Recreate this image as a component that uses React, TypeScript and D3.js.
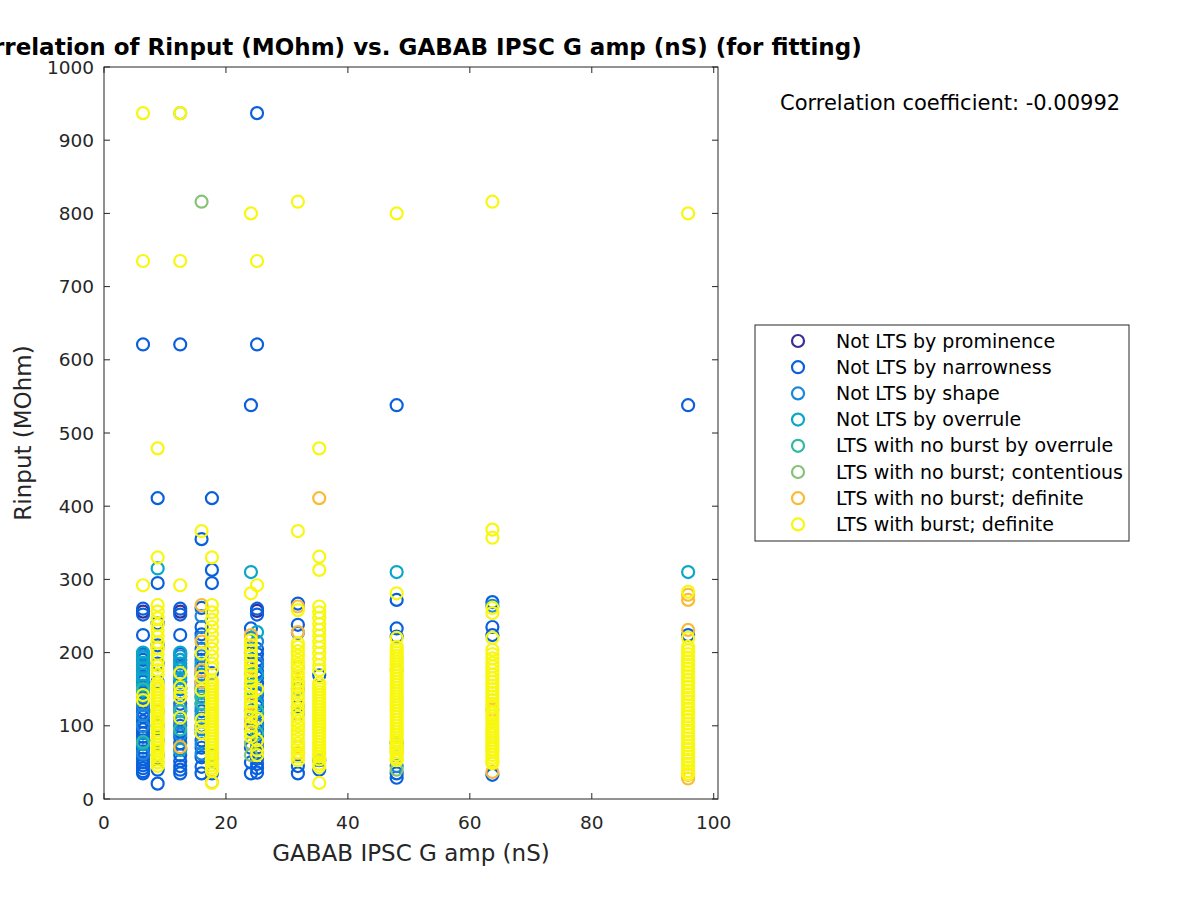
import React from 'react';
import * as d3 from 'd3';

// Legend labels and colours (parula-like)
const categoryLabels = [
  'Not LTS by prominence',
  'Not LTS by narrowness',
  'Not LTS by shape',
  'Not LTS by overrule',
  'LTS with no burst by overrule',
  'LTS with no burst; contentious',
  'LTS with no burst; definite',
  'LTS with burst; definite',
];
const categoryColors = ['#3b2d96', '#0a60dc', '#1a88d8', '#0aa6c8', '#2fb8a2', '#86c275', '#fbba34', '#f7f710'];

const xTicks = [0, 20, 40, 60, 80, 100];
const yTicks = [0, 100, 200, 300, 400, 500, 600, 700, 800, 900, 1000];

const titleText = 'Correlation of Rinput (MOhm) vs. GABAB IPSC G amp (nS) (for fitting)';
const xLabel = 'GABAB IPSC G amp (nS)';
const yLabel = 'Rinput (MOhm)';
const corrText = 'Correlation coefficient: -0.00992';

// Each row: [GABAB amp, Rinput values...]
const prominence = [
  [6.4, 256, 90],
  [12.5, 256],
  [25.1, 257],
];
const narrowness = [
  [6.4, 621, 260, 252, 224, 198, 190, 183, 176, 168, 160, 152, 145, 138, 130, 124, 118, 112, 106, 100, 95, 90, 85, 80, 75, 70, 65, 60, 55, 50, 46, 42, 38, 35],
  [8.8, 411, 295, 240, 210, 185, 160, 120, 100, 80, 60, 40, 21],
  [12.5, 621, 260, 252, 224, 198, 190, 180, 170, 160, 150, 140, 130, 120, 110, 100, 92, 84, 76, 68, 60, 52, 45, 40, 35],
  [16, 355, 261, 235, 225, 205, 190, 180, 170, 160, 150, 140, 130, 120, 110, 100, 90, 80, 70, 57, 44, 35],
  [17.7, 411, 313, 295, 172, 60, 35],
  [24.1, 538, 233, 200, 160, 120, 95, 70, 50, 35],
  [25.1, 937, 621, 260, 252, 205, 198, 190, 182, 174, 166, 158, 150, 142, 134, 126, 118, 110, 102, 94, 86, 78, 70, 62, 55, 48, 42, 36],
  [31.8, 267, 238, 227, 126, 117, 45, 35],
  [35.3, 169, 53, 40],
  [48, 538, 272, 233, 222, 76, 35, 29],
  [63.7, 269, 235, 224, 33],
  [95.8, 538, 224],
];
const shape = [
  [6.4, 196, 180, 165, 140, 128, 115, 100, 62],
  [12.5, 195, 185, 160, 145, 125, 105, 88],
  [16, 250, 220, 195, 175, 155, 125, 95, 75, 62],
  [24.1, 220, 110],
  [25.1, 215, 185, 145, 100],
  [31.8, 150],
  [48, 45],
  [63.7, 264],
];
const overrule = [
  [6.4, 200, 193, 186, 178, 170, 163, 155, 148, 75],
  [8.8, 315],
  [12.5, 200, 190, 178, 165, 152, 67],
  [16, 185, 145, 115],
  [24.1, 310, 190, 150],
  [25.1, 228, 170, 130],
  [48, 310],
  [95.8, 310],
];
const noBurstOverrule = [
  [6.4, 78, 150],
  [12.5, 120, 95],
  [16, 138, 131],
  [24.1, 170, 140],
  [25.1, 120, 90],
];
const noBurstContentious = [
  [12.5, 937],
  [16, 816],
  [24.1, 76, 60],
  [48, 40],
];
const noBurstDefinite = [
  [8.8, 206, 150, 120],
  [12.5, 71],
  [16, 265, 215, 176, 160],
  [17.7, 23, 130],
  [24.1, 224, 180, 130, 105],
  [31.8, 263, 228, 180, 158, 100, 71, 63],
  [35.3, 411],
  [48, 176, 70, 64],
  [63.7, 122, 37],
  [95.8, 279, 272, 231, 33, 28],
];
const withBurst = [
  [6.4, 937, 735, 292, 142, 135],
  [8.8, 479, 330, 265, 256, 247, 238, 230, 222, 214, 206, 198, 190, 182, 176, 170, 158, 154, 150, 146, 142, 138, 134, 130, 126, 122, 118, 114, 110, 106, 102, 98, 94, 90, 86, 82, 78, 74, 70, 66, 62, 58, 54, 50, 45],
  [12.5, 937, 735, 292, 172, 153, 145, 139, 111],
  [16, 366, 199, 167, 149, 108, 99, 90],
  [17.7, 330, 265, 255, 245, 235, 225, 215, 205, 195, 185, 178, 162, 158, 154, 150, 146, 142, 138, 134, 130, 126, 122, 118, 114, 110, 106, 102, 98, 94, 90, 86, 82, 78, 74, 70, 66, 62, 58, 54, 50, 46, 42, 38, 22],
  [24.1, 800, 281, 217, 210, 203, 196, 189, 182, 175, 168, 161, 154, 147, 140, 133, 126, 119, 112, 100, 92, 85],
  [25.1, 735, 292, 150, 110, 80, 67, 60],
  [31.8, 816, 366, 258, 213, 208, 202, 196, 190, 184, 178, 172, 166, 160, 154, 148, 142, 136, 130, 124, 118, 112, 106, 100, 94, 88, 82, 76, 70, 64, 58, 53],
  [35.3, 479, 331, 313, 263, 255, 247, 239, 231, 223, 215, 207, 199, 191, 183, 176, 158, 154, 150, 146, 142, 138, 134, 130, 126, 122, 118, 114, 110, 106, 102, 98, 94, 90, 86, 82, 78, 74, 70, 66, 62, 58, 54, 48, 44, 22],
  [48, 800, 281, 220, 208, 204, 200, 196, 192, 188, 184, 180, 176, 172, 168, 164, 160, 156, 152, 148, 144, 140, 136, 132, 128, 124, 120, 116, 112, 108, 104, 100, 96, 92, 88, 84, 80, 76, 72, 68, 64, 60, 56, 53],
  [63.7, 816, 368, 357, 261, 254, 220, 204, 198, 192, 186, 181, 176, 170, 165, 160, 155, 150, 145, 140, 135, 130, 126, 118, 114, 110, 105, 100, 96, 92, 88, 84, 80, 76, 72, 68, 64, 60, 56, 52, 49],
  [95.8, 800, 283, 220, 208, 203, 198, 193, 188, 183, 178, 173, 168, 163, 158, 153, 148, 143, 138, 133, 128, 123, 118, 113, 108, 103, 98, 93, 88, 83, 78, 73, 68, 63, 58, 53, 48, 43, 38, 34],
];

const seriesRows = [prominence, narrowness, shape, overrule, noBurstOverrule, noBurstContentious, noBurstDefinite, withBurst];

const W = 1200;
const H = 900;
const left = 104;
const right = 718;
const top = 67;
const bottom = 799;
const FONT = 'DejaVu Sans, sans-serif';
const AX = '#262626';
const R = 6;
const SW = 2.2;

export default function App() {
  const x = d3.scaleLinear().domain([0, 100.7]).range([left, right]);
  const y = d3.scaleLinear().domain([0, 1000]).range([bottom, top]);
  const tickLen = 6;

  const points: { cx: number; cy: number; c: string; k: string }[] = [];
  seriesRows.forEach((rows, si) => {
    rows.forEach((row, ri) => {
      const xv = row[0];
      row.slice(1).forEach((yv, pi) => {
        points.push({ cx: x(xv), cy: y(yv), c: categoryColors[si], k: `${si}-${ri}-${pi}` });
      });
    });
  });

  const legendX = 755;
  const legendY = 325;
  const legendW = 374;
  const legendH = 216;
  const legendStep = 26.2;

  return (
    <div style={{ position: 'fixed', left: 0, top: 0, width: W, height: H, background: '#fff' }}>
      <svg width={W} height={H} style={{ display: 'block' }} fontFamily={FONT}>
        <rect x={0} y={0} width={W} height={H} fill="#fff" />
        <rect x={left} y={top} width={right - left} height={bottom - top} fill="#fff" />
        {/* points */}
        <g>
          {points.map((p) => (
            <circle key={p.k} cx={p.cx} cy={p.cy} r={R} fill="none" stroke={p.c} strokeWidth={SW} />
          ))}
        </g>
        {/* axes box */}
        <rect x={left} y={top} width={right - left} height={bottom - top} fill="none" stroke={AX} strokeWidth={1} />
        {xTicks.map((t) => (
          <g key={'xt' + t}>
            <line x1={x(t)} x2={x(t)} y1={bottom} y2={bottom - tickLen} stroke={AX} />
            <line x1={x(t)} x2={x(t)} y1={top} y2={top + tickLen} stroke={AX} />
            <text x={x(t)} y={829} textAnchor="middle" fontSize={18.5} fill={AX}>{t}</text>
          </g>
        ))}
        {yTicks.map((t) => (
          <g key={'yt' + t}>
            <line x1={left} x2={left + tickLen} y1={y(t)} y2={y(t)} stroke={AX} />
            <line x1={right} x2={right - tickLen} y1={y(t)} y2={y(t)} stroke={AX} />
            <text x={94} y={y(t) + 6.5} textAnchor="end" fontSize={18.5} fill={AX}>{t}</text>
          </g>
        ))}
        <text x={(left + right) / 2} y={861} textAnchor="middle" fontSize={23} fill={AX}>{xLabel}</text>
        <text transform={`translate(31, ${(top + bottom) / 2}) rotate(-90)`} textAnchor="middle" fontSize={23} fill={AX}>{yLabel}</text>
        <text x={(left + right) / 2} y={55} textAnchor="middle" fontSize={23} fontWeight="bold" fill="#000">{titleText}</text>
        <text x={780} y={110} fontSize={21} fill="#000">{corrText}</text>
        {/* legend */}
        <rect x={legendX} y={legendY} width={legendW} height={legendH} fill="#fff" stroke={AX} strokeWidth={1} />
        {categoryLabels.map((lab, i) => (
          <g key={lab}>
            <circle cx={798} cy={legendY + 16 + i * legendStep} r={R} fill="none" stroke={categoryColors[i]} strokeWidth={SW} />
            <text x={836} y={legendY + 16 + i * legendStep + 6.5} fontSize={19} fill="#000">{lab}</text>
          </g>
        ))}
      </svg>
    </div>
  );
}
